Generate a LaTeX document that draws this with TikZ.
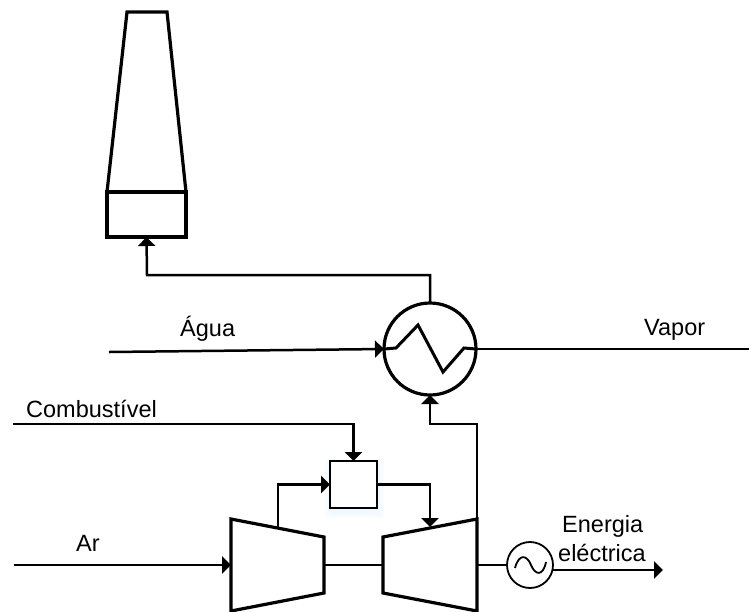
\documentclass[tikz,border=0pt]{standalone}
\usepackage{fontspec}
\setmainfont{Liberation Sans}
\usetikzlibrary{arrows.meta}
\tikzset{
  eq/.style={draw=black,line width=3.2pt,fill=white,line join=miter},
  pipe/.style={draw=black,line width=2.5pt},
  flow/.style={pipe,-{Triangle[length=9pt,width=17pt]}},
  lbl/.style={font=\fontsize{23.5}{26}\selectfont,inner sep=0pt,anchor=base west}
}
\begin{document}
\begin{tikzpicture}[x=1pt,y=-1pt]
\useasboundingbox (0,0) rectangle (749,611);
\coordinate (aguaS) at (109,352);
\coordinate (vaporE) at (749,349);
\coordinate (combS) at (13,424);
\coordinate (arS) at (14,565);
\coordinate (elecE) at (663,570);
% equipment
\draw[eq] (127,12) -- (167,12) -- (186,192) -- (107,192) -- cycle;
\node[eq,minimum width=79pt,minimum height=45pt,inner sep=0pt,outer sep=0pt,anchor=north west] (stack) at (107,192) {};
\node[draw=black,line width=3.2pt,circle,minimum size=92pt,inner sep=0pt,outer sep=0pt] (hx) at (430,349) {};
% soft shadow of the combustion chamber
\foreach \g in {6,4,2}{\fill[blue!40!cyan,opacity=0.02,rounded corners=3pt] (331-\g,465-\g) rectangle (378+\g,512+\g);}
\node[draw=black,line width=1.6pt,fill=white,minimum width=47pt,minimum height=47pt,inner sep=0pt,outer sep=0pt,anchor=north west] (cc) at (330,461) {};
\node[draw=black,line width=1.8pt,circle,minimum size=46pt,inner sep=0pt,outer sep=0pt] (gen) at (530,565) {};
\draw[eq] (231,519) -- (324,537) -- (324,593) -- (231,611) -- cycle;
\draw[eq] (383,537) -- (477,519) -- (477,611) -- (383,593) -- cycle;
\coordinate (compIn) at (231,565);
\coordinate (compOut) at (324,565);
\coordinate (turbIn) at (383,565);
\coordinate (turbOut) at (477,565);
\coordinate (compTop) at (278,528);
\coordinate (turbTop) at (430,527);
\coordinate (turbCorner) at (477,519);
% heat-exchanger coil
\draw[pipe,line width=3pt] (hx.west) -- (396,348) -- (418,325) -- (443,372) -- (464,348) -- (hx.east);
% connectors
\draw[flow] (aguaS) -- (hx.west);
\draw[pipe] (hx.east) -- (vaporE);
\draw[flow] (hx.north) |- (147,275) -- (stack.south);
\draw[flow] (turbCorner) |- (430,424) -- (hx.south);
\draw[flow] (combS) -| (cc.north);
\draw[flow] (compTop) |- (cc.west);
\draw[flow] (cc.east) -| (turbTop);
\draw[flow] (arS) -- (compIn);
\draw[pipe] (compOut) -- (turbIn);
\draw[pipe] (turbOut) -- (gen.west);
\draw[flow] (553,570) -- (elecE);
% generator wave
\draw[line width=1.8pt] (515,568) .. controls (519,553) and (527,555) .. (531,565) .. controls (535,575) and (543,577) .. (546,562);
% labels
\node[lbl] (l1) at (180,336) {Água};
\node[lbl] (l2) at (644,335) {Vapor};
\node[lbl] (l3) at (26,417) {Combustível};
\node[lbl] (l4) at (76,551) {Ar};
\node[lbl] (l5) at (562,532) {Energia};
\node[lbl] (l6) at (558,561) {eléctrica};
\end{tikzpicture}
\end{document}
